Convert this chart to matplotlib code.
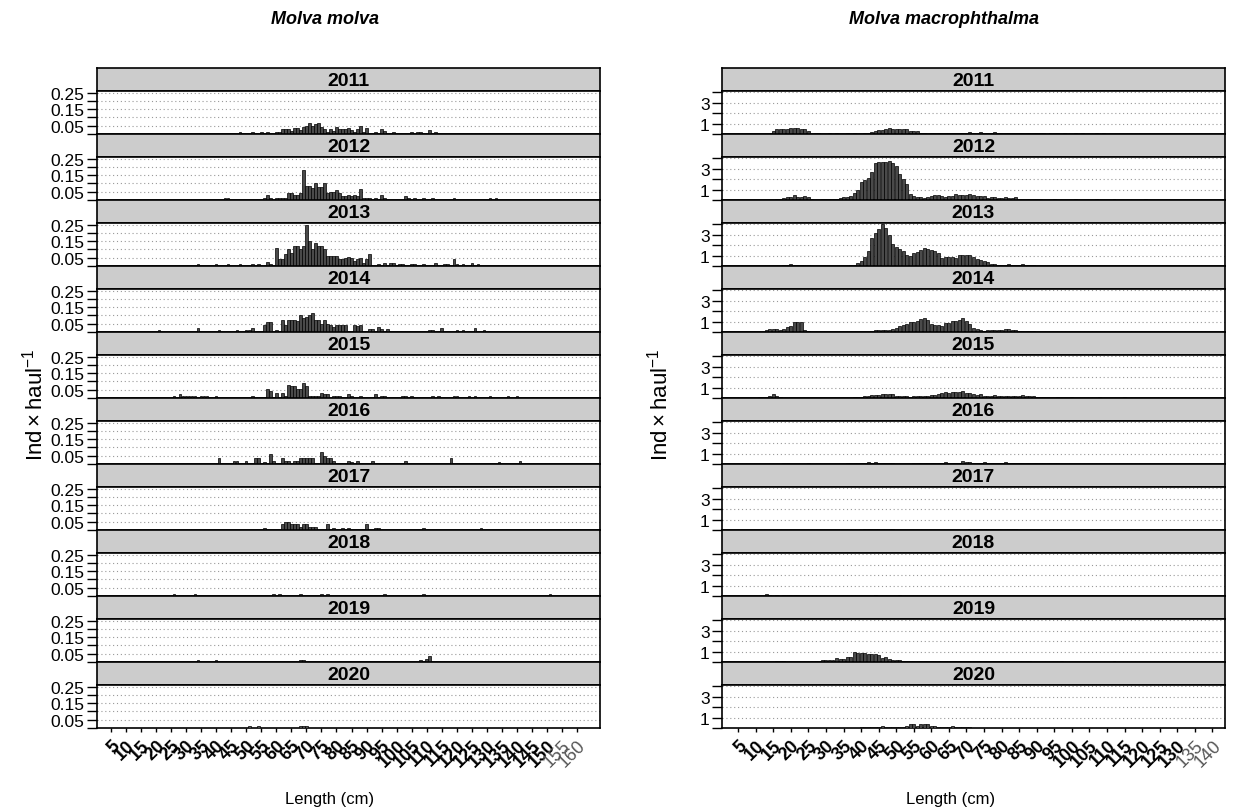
import numpy as np
import matplotlib.pyplot as plt

plt.rcParams['font.family'] = ['Liberation Sans', 'DejaVu Sans']
plt.rcParams['mathtext.fontset'] = 'custom'
plt.rcParams['mathtext.rm'] = 'Liberation Sans'
plt.rcParams['mathtext.it'] = 'Liberation Sans:italic'

years = list(range(2011, 2021))

# ---- Molva molva: (length cm, ind/haul) pairs per year ----
mm_2011 = [(48, .014), (52, .014), (55, .014), (57, .014), (60, .014), (61, .014), (62, .028),
           (63, .028), (64, .03), (65, .02), (66, .035), (67, .035), (68, .025), (69, .04),
           (70, .05), (71, .068), (72, .05), (73, .06), (74, .068), (75, .04), (76, .03),
           (77, .014), (78, .03), (79, .02), (80, .045), (81, .03), (82, .03), (83, .03),
           (84, .035), (85, .025), (86, .014), (87, .03), (88, .05), (89, .014), (90, .035),
           (93, .014), (95, .03), (96, .02), (99, .014), (105, .014), (107, .014), (108, .014),
           (111, .025), (113, .014)]
mm_2012 = [(43, .014), (44, .014), (56, .014), (57, .028), (58, .014), (60, .014), (61, .014),
           (62, .014), (63, .014), (64, .044), (65, .044), (66, .03), (67, .03), (68, .044),
           (69, .184), (70, .084), (71, .084), (72, .07), (73, .104), (74, .08), (75, .08),
           (76, .1), (77, .044), (78, .05), (79, .05), (80, .06), (81, .045), (82, .025),
           (83, .025), (84, .03), (85, .025), (86, .028), (87, .025), (88, .068), (89, .014),
           (90, .014), (91, .014), (93, .014), (95, .028), (96, .014), (103, .025), (104, .014),
           (106, .014), (109, .014), (112, .014), (119, .014), (131, .014), (133, .014)]
mm_2013 = [(34, .01), (40, .01), (44, .01), (48, .01), (52, .01), (54, .01), (57, .027),
           (58, .01), (60, .108), (61, .04), (62, .045), (63, .07), (64, .1), (65, .08),
           (66, .12), (67, .12), (68, .1), (69, .12), (70, .245), (71, .15), (72, .1), (73, .14),
           (74, .12), (75, .12), (76, .1), (77, .06), (78, .06), (79, .06), (80, .06), (81, .04),
           (82, .04), (83, .05), (84, .055), (85, .05), (86, .03), (87, .045), (88, .05),
           (89, .02), (90, .04), (91, .075), (94, .01), (96, .02), (98, .02), (99, .02),
           (101, .01), (102, .01), (105, .01), (106, .01), (109, .01), (113, .02), (116, .01),
           (117, .01), (119, .04), (120, .01), (122, .01), (125, .02), (127, .01)]
mm_2014 = [(21, .01), (34, .025), (41, .01), (47, .01), (50, .01), (51, .01), (52, .025),
           (56, .04), (57, .06), (58, .06), (60, .01), (62, .075), (63, .04), (64, .075),
           (65, .075), (66, .075), (67, .065), (68, .1), (69, .085), (70, .09), (71, .1),
           (72, .115), (73, .075), (74, .07), (75, .05), (76, .075), (77, .05), (78, .045),
           (79, .03), (80, .045), (81, .045), (82, .045), (83, .045), (86, .045), (87, .035),
           (88, .04), (91, .02), (92, .02), (94, .03), (95, .02), (97, .02), (111, .01),
           (112, .01), (115, .025), (120, .01), (122, .01), (126, .025), (129, .01)]
mm_2015 = [(26, .01), (28, .025), (29, .015), (30, .015), (31, .015), (32, .015), (33, .015),
           (35, .015), (36, .015), (37, .015), (40, .01), (52, .01), (57, .055), (58, .04),
           (60, .03), (62, .03), (63, .015), (64, .08), (65, .07), (66, .07), (67, .055),
           (68, .055), (69, .09), (70, .07), (71, .015), (72, .015), (73, .015), (74, .015),
           (75, .03), (76, .025), (77, .025), (79, .015), (80, .015), (81, .015), (84, .025),
           (85, .015), (88, .01), (93, .025), (95, .015), (96, .01), (102, .01), (103, .01),
           (105, .01), (112, .01), (114, .01), (119, .01), (120, .01), (124, .01), (126, .01),
           (131, .01), (137, .01), (140, .01)]
mm_2016 = [(41, .035), (46, .02), (47, .02), (50, .02), (53, .035), (54, .035), (56, .015),
           (58, .06), (59, .02), (62, .035), (63, .02), (64, .02), (66, .02), (67, .02),
           (68, .035), (69, .035), (70, .035), (71, .035), (72, .035), (75, .075), (76, .05),
           (77, .035), (78, .035), (79, .02), (84, .02), (85, .015), (87, .02), (92, .02),
           (103, .02), (118, .035), (134, .015), (141, .02)]
mm_2017 = [(56, .015), (62, .035), (63, .05), (64, .05), (65, .035), (66, .035), (67, .035),
           (68, .02), (69, .035), (70, .035), (71, .02), (72, .02), (73, .02), (77, .035),
           (79, .015), (82, .015), (84, .015), (90, .035), (93, .015), (94, .015), (109, .015),
           (128, .015)]
mm_2018 = [(26, .012), (33, .012), (59, .012), (61, .012), (68, .012), (75, .012), (77, .012),
           (96, .012), (109, .012), (151, .012)]
mm_2019 = [(34, .015), (40, .015), (68, .015), (69, .015), (108, .015), (110, .02), (111, .035)]
mm_2020 = [(51, .015), (54, .015), (68, .015), (69, .015), (70, .015)]

# ---- Molva macrophthalma: first length (cm) and consecutive 1-cm values ----
mac_2011 = (15, [0.30, 0.45, 0.45, 0.50, 0.50, 0.55, 0.60, 0.60, 0.50, 0.50, 0.30,
                 0.00, 0.05, 0.05, 0.00, 0.00, 0.05, 0.00, 0.05, 0.00, 0.00,
                 0.05, 0.00, 0.05, 0.00, 0.00, 0.05, 0.10, 0.20, 0.30, 0.35,
                 0.40, 0.45, 0.55, 0.45, 0.45, 0.45, 0.50, 0.50, 0.30, 0.25,
                 0.25, 0.10, 0.05, 0.00, 0.05, 0.08, 0.08, 0.08, 0.05, 0.08,
                 0.08, 0.08, 0.05, 0.08, 0.08, 0.20, 0.10, 0.10, 0.20, 0.08,
                 0.05, 0.08, 0.20, 0.08, 0.08, 0.08, 0.05, 0.08, 0.08, 0.08,
                 0.05, 0.08, 0.08, 0.05, 0.08, 0.05, 0.05, 0.00, 0.05, 0.08,
                 0.05, 0.00, 0.05, 0.00, 0.00, 0.05, 0.00, 0.05, 0.00, 0.00,
                 0.00, 0.05, 0.00, 0.05])
mac_2012 = (16, [0.05, 0.10, 0.20, 0.25, 0.30, 0.45, 0.30, 0.25, 0.35, 0.25, 0.10,
                 0.00, 0.00, 0.05, 0.05, 0.05, 0.05, 0.08, 0.15, 0.25, 0.30,
                 0.40, 0.70, 1.00, 1.70, 1.90, 2.10, 2.70, 3.50, 3.60, 3.60,
                 3.60, 3.70, 3.50, 3.30, 2.50, 2.00, 1.50, 0.60, 0.40, 0.30,
                 0.25, 0.20, 0.30, 0.40, 0.45, 0.45, 0.35, 0.30, 0.35, 0.35,
                 0.55, 0.50, 0.50, 0.50, 0.55, 0.45, 0.40, 0.40, 0.35, 0.20,
                 0.30, 0.25, 0.20, 0.20, 0.25, 0.20, 0.20, 0.25, 0.10, 0.10,
                 0.10, 0.10, 0.10, 0.10, 0.10, 0.00, 0.00, 0.00, 0.10, 0.00,
                 0.00, 0.00, 0.00, 0.00, 0.08, 0.00, 0.00, 0.00, 0.00, 0.00,
                 0.05, 0.00, 0.00, 0.00, 0.00, 0.05, 0.00, 0.00, 0.00, 0.00,
                 0.00, 0.00, 0.00, 0.00, 0.05])
mac_2013 = (18, [0.05, 0.10, 0.20, 0.10, 0.10, 0.10, 0.10, 0.10, 0.00, 0.00, 0.00,
                 0.00, 0.03, 0.03, 0.03, 0.03, 0.03, 0.03, 0.03, 0.05, 0.10,
                 0.25, 0.50, 0.90, 1.40, 2.70, 3.20, 3.50, 4.00, 3.60, 3.00,
                 2.10, 1.80, 1.60, 1.40, 1.10, 1.00, 1.20, 1.30, 1.50, 1.70,
                 1.60, 1.50, 1.40, 1.20, 0.80, 0.90, 0.90, 0.90, 0.80, 1.10,
                 1.10, 1.10, 1.10, 0.90, 0.70, 0.55, 0.45, 0.35, 0.20, 0.20,
                 0.10, 0.10, 0.10, 0.20, 0.10, 0.10, 0.05, 0.20, 0.05, 0.10,
                 0.10])
mac_2014 = (13, [0.20, 0.25, 0.25, 0.30, 0.20, 0.30, 0.50, 0.60, 1.00, 1.00, 1.00,
                 0.20, 0.10, 0.00, 0.00, 0.00, 0.00, 0.00, 0.00, 0.00, 0.00,
                 0.00, 0.00, 0.00, 0.00, 0.00, 0.00, 0.00, 0.00, 0.00, 0.10,
                 0.20, 0.20, 0.20, 0.20, 0.15, 0.25, 0.40, 0.60, 0.70, 0.80,
                 0.95, 1.00, 1.10, 1.20, 1.35, 1.15, 0.80, 0.70, 0.65, 0.60,
                 0.85, 0.90, 1.10, 1.10, 1.15, 1.35, 1.10, 0.75, 0.40, 0.30,
                 0.20, 0.10, 0.20, 0.20, 0.20, 0.15, 0.20, 0.30, 0.25, 0.20,
                 0.20, 0.10, 0.05, 0.05, 0.05, 0.05])
mac_2015 = (11, [0.05, 0.05, 0.10, 0.20, 0.35, 0.20, 0.10, 0.00, 0.00, 0.00, 0.00,
                 0.00, 0.00, 0.00, 0.00, 0.00, 0.00, 0.00, 0.00, 0.00, 0.00,
                 0.00, 0.03, 0.03, 0.03, 0.03, 0.03, 0.10, 0.05, 0.05, 0.20,
                 0.20, 0.25, 0.30, 0.30, 0.40, 0.40, 0.40, 0.35, 0.20, 0.15,
                 0.15, 0.20, 0.10, 0.20, 0.15, 0.15, 0.15, 0.20, 0.25, 0.30,
                 0.40, 0.50, 0.55, 0.45, 0.55, 0.55, 0.60, 0.70, 0.50, 0.45,
                 0.35, 0.30, 0.35, 0.20, 0.15, 0.20, 0.25, 0.20, 0.20, 0.15,
                 0.15, 0.15, 0.15, 0.15, 0.25, 0.20, 0.20, 0.15, 0.10, 0.05,
                 0.05, 0.05, 0.00, 0.00, 0.05, 0.00, 0.00, 0.00, 0.05, 0.00,
                 0.00, 0.00, 0.00, 0.00, 0.00, 0.00, 0.05, 0.00, 0.00, 0.00,
                 0.00, 0.00, 0.00, 0.05])
mac_2016 = (18, [0.10, 0.10, 0.00, 0.00, 0.00, 0.00, 0.00, 0.08, 0.00, 0.00, 0.00,
                 0.00, 0.00, 0.00, 0.00, 0.00, 0.00, 0.00, 0.05, 0.05, 0.05,
                 0.10, 0.10, 0.10, 0.15, 0.10, 0.15, 0.10, 0.10, 0.10, 0.10,
                 0.10, 0.00, 0.00, 0.00, 0.00, 0.00, 0.05, 0.05, 0.05, 0.05,
                 0.10, 0.10, 0.05, 0.05, 0.05, 0.15, 0.05, 0.10, 0.10, 0.10,
                 0.25, 0.20, 0.15, 0.10, 0.08, 0.08, 0.15, 0.08, 0.05, 0.05,
                 0.05, 0.05, 0.15, 0.05, 0.05, 0.05, 0.05, 0.05, 0.05, 0.05,
                 0.05, 0.05, 0.05, 0.05, 0.05, 0.05, 0.05, 0.05])
mac_2017 = (14, [0.03, 0.03, 0.03, 0.03, 0.03, 0.00, 0.00, 0.00, 0.03, 0.03, 0.03,
                 0.00, 0.00, 0.00, 0.00, 0.00, 0.00, 0.00, 0.00, 0.03, 0.03,
                 0.03, 0.03, 0.03, 0.03, 0.00, 0.00, 0.06, 0.06, 0.06, 0.06,
                 0.06, 0.06, 0.06, 0.06, 0.06, 0.03, 0.03, 0.03, 0.03, 0.03,
                 0.03, 0.00, 0.00, 0.03, 0.03, 0.03, 0.03, 0.03, 0.00, 0.00,
                 0.00, 0.00, 0.00, 0.00, 0.00, 0.00, 0.06, 0.06, 0.06, 0.06,
                 0.06, 0.06, 0.06, 0.06, 0.06, 0.06, 0.06, 0.06, 0.06, 0.06,
                 0.03, 0.03, 0.03, 0.03, 0.03, 0.03, 0.03, 0.03, 0.03, 0.03,
                 0.03, 0.03, 0.03, 0.03, 0.03, 0.03, 0.03, 0.03, 0.03, 0.03,
                 0.03, 0.03, 0.03, 0.00, 0.03, 0.03, 0.00, 0.00, 0.03, 0.03,
                 0.03])
mac_2018 = (10, [0.03, 0.03, 0.03, 0.15, 0.08, 0.00, 0.05, 0.00, 0.08, 0.08, 0.08,
                 0.08, 0.08, 0.03, 0.03, 0.03, 0.00, 0.03, 0.03, 0.03, 0.03,
                 0.00, 0.03, 0.03, 0.03, 0.03, 0.03, 0.03, 0.03, 0.03, 0.03,
                 0.03, 0.03, 0.03, 0.10, 0.03, 0.03, 0.03, 0.03, 0.03, 0.03,
                 0.10, 0.03, 0.03, 0.00, 0.03, 0.03, 0.03, 0.03, 0.03, 0.03,
                 0.03, 0.03, 0.03, 0.03, 0.03, 0.03, 0.03, 0.03, 0.03, 0.03,
                 0.03, 0.03, 0.03, 0.03, 0.03, 0.03, 0.03, 0.03, 0.03, 0.03,
                 0.03, 0.03, 0.03, 0.03, 0.03, 0.03, 0.03, 0.03, 0.03, 0.03,
                 0.03, 0.03, 0.03, 0.03, 0.03, 0.03, 0.00, 0.00, 0.00, 0.00,
                 0.00, 0.00, 0.00, 0.00, 0.00, 0.00, 0.00, 0.00, 0.00, 0.00,
                 0.00, 0.00, 0.00, 0.00, 0.00, 0.00, 0.03])
mac_2019 = (16, [0.05, 0.05, 0.05, 0.00, 0.00, 0.00, 0.00, 0.00, 0.00, 0.00, 0.05,
                 0.05, 0.10, 0.15, 0.15, 0.15, 0.15, 0.35, 0.30, 0.30, 0.45,
                 0.50, 0.95, 0.85, 0.85, 0.90, 0.80, 0.75, 0.75, 0.70, 0.35,
                 0.45, 0.25, 0.20, 0.20, 0.20, 0.05, 0.05, 0.05, 0.05, 0.05,
                 0.05, 0.05, 0.05, 0.05, 0.05, 0.05, 0.05, 0.05, 0.05, 0.05,
                 0.05, 0.05, 0.05, 0.05, 0.05, 0.05, 0.05, 0.05, 0.05, 0.05,
                 0.05, 0.05, 0.05, 0.05, 0.05, 0.05, 0.05, 0.05, 0.05, 0.05,
                 0.05, 0.05, 0.00, 0.00, 0.00, 0.00, 0.00, 0.00, 0.00, 0.00,
                 0.08, 0.00, 0.00, 0.00, 0.00, 0.00, 0.00, 0.00, 0.00, 0.00,
                 0.00, 0.00, 0.00, 0.00, 0.00, 0.05])
mac_2020 = (16, [0.03, 0.00, 0.00, 0.00, 0.00, 0.00, 0.00, 0.00, 0.00, 0.00, 0.00,
                 0.00, 0.00, 0.00, 0.00, 0.00, 0.00, 0.00, 0.00, 0.00, 0.00,
                 0.03, 0.03, 0.03, 0.05, 0.05, 0.05, 0.05, 0.05, 0.05, 0.15,
                 0.08, 0.08, 0.08, 0.08, 0.08, 0.10, 0.15, 0.35, 0.35, 0.15,
                 0.35, 0.35, 0.35, 0.20, 0.15, 0.08, 0.08, 0.08, 0.08, 0.15,
                 0.08, 0.08, 0.08, 0.08, 0.08, 0.03, 0.03, 0.00, 0.00, 0.00,
                 0.00, 0.00, 0.03, 0.03, 0.03, 0.00, 0.00, 0.00, 0.00, 0.00,
                 0.03, 0.00, 0.00, 0.00, 0.00, 0.00, 0.00, 0.00, 0.00, 0.00,
                 0.03, 0.00, 0.00, 0.00, 0.00, 0.00, 0.00, 0.00, 0.00, 0.03])

molva_years = [mm_2011, mm_2012, mm_2013, mm_2014, mm_2015,
               mm_2016, mm_2017, mm_2018, mm_2019, mm_2020]
macro_years = [mac_2011, mac_2012, mac_2013, mac_2014, mac_2015,
               mac_2016, mac_2017, mac_2018, mac_2019, mac_2020]

mm_xticks = list(range(5, 161, 5))
mac_xticks = list(range(5, 141, 5))
mm_yticks = [0, 0.05, 0.10, 0.15, 0.20, 0.25]
mm_ylabels = ['', '0.05', '', '0.15', '', '0.25']
mac_yticks = [0, 1, 2, 3, 4]
mac_ylabels = ['', '1', '', '3', '']

W, H = 1242, 812
fig = plt.figure(figsize=(W / 100, H / 100), dpi=100)


def px_axes(x0, y0, x1, y1):
    return fig.add_axes([x0 / W, 1 - y1 / H, (x1 - x0) / W, (y1 - y0) / H])


def pairs_to_xy(d):
    if isinstance(d, tuple):
        start, vals = d
        x = np.arange(start, start + len(vals))
        y = np.array(vals)
    else:
        x = np.array([p[0] for p in d])
        y = np.array([p[1] for p in d])
    keep = y > 0
    return x[keep], y[keep]


def draw_column(x0, x1, data, xlim, xticks, yticks, ylabels, ylim):
    top0, strip_h, row_h = 69, 23, 66
    for i, (yr, d) in enumerate(zip(years, data)):
        top = top0 + i * row_h
        st = px_axes(x0, top, x1, top + strip_h)
        st.set_facecolor('#cccccc')
        st.set_xticks([])
        st.set_yticks([])
        for s in st.spines.values():
            s.set_linewidth(1.2)
        st.text(0.5, 0.45, str(yr), transform=st.transAxes, ha='center', va='center',
                fontsize=14, fontweight='bold')

        ax = px_axes(x0, top + strip_h, x1, top + row_h)
        x, y = pairs_to_xy(d)
        ax.bar(x, y, width=0.85, color='#4a4a4a', edgecolor='black', linewidth=0.5, zorder=3)
        ax.set_xlim(*xlim)
        ax.set_ylim(*ylim)
        ax.set_yticks(yticks)
        ax.set_yticklabels(ylabels, fontsize=12.5)
        ax.tick_params(axis='y', length=7, width=1, pad=2)
        ax.grid(axis='y', linestyle=(0, (1, 2.5)), color='#999999', linewidth=0.8, zorder=0)
        ax.set_axisbelow(True)
        for s in ax.spines.values():
            s.set_linewidth(1.2)
        if i == len(years) - 1:
            ax.set_xticks(xticks)
            labs = ax.set_xticklabels([str(t) for t in xticks], rotation=45, ha='right',
                                      va='top', rotation_mode='anchor', fontsize=13)
            for lab in labs[:-2]:
                lab.set_fontweight('bold')
            for lab in labs[-2:]:
                lab.set_color('#555555')
            ax.tick_params(axis='x', length=3, width=1, pad=3)
        else:
            ax.set_xticks([])


draw_column(97, 600, molva_years, (0.4, 167.6), mm_xticks, mm_yticks, mm_ylabels, (0, 0.26))
draw_column(722, 1225, macro_years, (0.4, 143.6), mac_xticks, mac_yticks, mac_ylabels, (0, 4.12))

fig.text(325 / W, 1 - 19 / H, 'Molva molva', ha='center', va='center',
         fontsize=13, fontweight='bold', style='italic')
fig.text(944 / W, 1 - 19 / H, 'Molva macrophthalma', ha='center', va='center',
         fontsize=13, fontweight='bold', style='italic')
fig.text(330 / W, 1 - 800 / H, 'Length (cm)', ha='center', va='center', fontsize=12)
fig.text(951 / W, 1 - 800 / H, 'Length (cm)', ha='center', va='center', fontsize=12)
ylab = r'$\mathrm{Ind} \times \mathrm{haul}^{-1}$'
fig.text(35 / W, 1 - 405 / H, ylab, ha='center', va='center', rotation=90, fontsize=16)
fig.text(660 / W, 1 - 405 / H, ylab, ha='center', va='center', rotation=90, fontsize=16)

fig.savefig('out.png', dpi=100)
